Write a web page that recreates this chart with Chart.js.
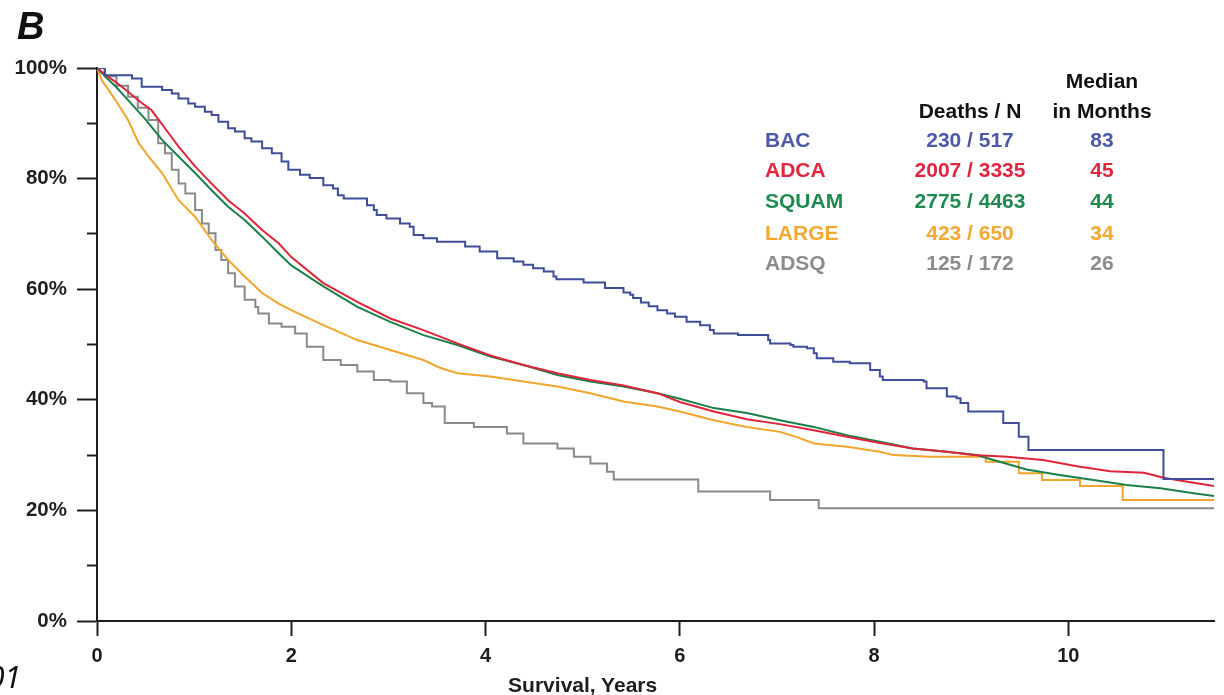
<!DOCTYPE html>
<html><head><meta charset="utf-8">
<script src="https://cdn.jsdelivr.net/npm/chart.js@4.4.1/dist/chart.umd.min.js"></script>
<style>
html,body{margin:0;padding:0;background:#fff;overflow:hidden}
#wrap{position:relative;width:1224px;height:695px;overflow:hidden}
canvas{position:absolute;left:0;top:0}
.t{position:absolute;font-family:"Liberation Sans",Arial,sans-serif;font-weight:bold;font-size:21px;line-height:21px;white-space:nowrap}
</style></head><body>
<div id="wrap"><canvas id="c" width="1224" height="695"></canvas></div>
<script>
// ---------- data ----------
const xTicks = [0, 2, 4, 6, 8, 10];
const yTicks = [0, 20, 40, 60, 80, 100];
const yMinorTicks = [10, 30, 50, 70, 90];
const xTitle = 'Survival, Years';

const bacT = [0,0.08,0.36,0.46,0.67,0.77,0.84,0.94,1.01,1.11,1.18,1.25,1.35,1.42,1.52,1.59,1.70,1.80,1.90,1.97,2.09,2.19,2.33,2.43,2.48,2.54,2.78,2.85,2.88,2.98,3.12,3.22,3.26,3.36,3.50,3.79,3.94,4.12,4.29,4.39,4.49,4.60,4.70,4.73,5.01,5.23,5.42,5.49,5.52,5.60,5.68,5.77,5.87,5.95,6.07,6.21,6.31,6.35,6.60,6.91,6.93,7.14,7.17,7.31,7.38,7.41,7.58,7.75,7.96,8.06,8.09,8.51,8.54,8.75,8.85,8.89,8.97,9.33,9.49,9.59,10.98,11.5];
const bacS = [100,98.7,98.1,96.6,96.0,95.4,94.5,93.6,93.0,92.1,91.5,90.3,89.1,88.5,87.3,86.7,85.5,84.6,83.1,81.6,80.7,80.1,78.8,78.2,77.0,76.4,75.2,74.3,73.4,72.8,71.9,71.3,69.8,69.2,68.6,67.7,66.8,65.6,65.0,64.4,63.8,63.2,62.3,61.8,61.2,60.2,59.4,59.0,58.4,57.6,56.9,56.2,55.6,55.0,54.1,53.5,52.6,52.0,51.7,50.8,50.2,49.9,49.6,49.3,48.4,47.5,46.9,46.6,45.4,44.2,43.6,43.3,42.1,40.6,40.3,39.4,37.9,35.8,33.3,30.9,25.7,25.7];

const adcaT = [0,0.1,0.19,0.32,0.45,0.56,0.70,0.84,1.01,1.18,1.35,1.52,1.70,1.87,2.0,2.33,2.68,3.02,3.36,3.71,4.05,4.39,4.74,5.08,5.42,5.77,6.0,6.35,6.69,7.03,7.38,7.72,8.06,8.4,8.75,9.02,9.37,9.74,10.09,10.43,10.78,10.98,11.29,11.5];
const adcaS = [100,98.6,97.5,95.7,93.8,92.4,89.1,85.8,82.2,79.1,76.1,73.7,70.7,68.3,65.8,61.1,57.7,54.7,52.6,50.2,48.0,46.3,44.8,43.6,42.6,41.2,39.6,37.9,36.5,35.6,34.5,33.3,32.2,31.2,30.6,30.0,29.7,29.1,28.0,27.1,26.8,25.9,25.0,24.4];

const squT = [0,0.1,0.19,0.32,0.49,0.67,0.84,1.01,1.18,1.35,1.52,1.70,1.87,2.0,2.33,2.68,3.02,3.36,3.71,4.05,4.39,4.74,5.08,5.42,5.77,6.0,6.35,6.69,7.03,7.38,7.72,8.06,8.4,8.75,9.06,9.23,9.57,9.91,10.26,10.6,10.95,11.29,11.5];
const squS = [100,98.2,96.7,94.2,90.9,87.0,84.0,81.0,77.9,74.9,72.5,69.5,66.5,64.3,60.5,56.8,54.1,51.7,49.9,47.8,46.3,44.5,43.3,42.4,41.2,40.2,38.5,37.6,36.3,35.1,33.6,32.4,31.2,30.6,30.0,29.1,27.4,26.4,25.5,24.6,24.0,23.1,22.6];

const lrgT = [0,0.05,0.19,0.32,0.43,0.53,0.67,0.84,1.01,1.18,1.35,1.52,1.70,1.87,2.0,2.33,2.68,3.02,3.36,3.53,3.71,4.05,4.39,4.74,5.08,5.42,5.77,6.0,6.35,6.69,7.03,7.2,7.38,7.72,8.06,8.2,8.58,9.15,9.15,9.49,9.49,9.73,9.73,10.12,10.12,10.56,10.56,11.5];
const lrgS = [100,97.8,94.2,90.6,86.4,84.0,81.0,76.1,73.1,68.9,65.3,62.3,59.3,57.4,56.2,53.5,50.8,49.0,47.2,45.8,44.8,44.2,43.3,42.4,41.2,39.7,38.8,37.9,36.3,35.1,34.2,33.3,32.1,31.5,30.6,30.0,29.7,29.7,28.8,28.8,26.7,26.7,25.5,25.5,24.4,24.4,21.9,21.9];

const adsqT = [0,0.08,0.2,0.32,0.42,0.53,0.63,0.70,0.77,0.84,0.91,1.01,1.08,1.15,1.22,1.28,1.35,1.42,1.52,1.63,1.66,1.77,1.90,2.04,2.16,2.33,2.51,2.68,2.85,3.02,3.19,3.36,3.45,3.58,3.88,4.22,4.39,4.74,4.91,5.08,5.25,5.32,6.19,6.93,7.43,11.5];
const adsqS = [100,98.5,96.8,94.8,92.8,90.6,86.4,84.6,81.6,79.1,77.3,74.3,71.9,70.1,67.1,65.3,62.9,60.5,58.1,56.8,55.6,53.8,53.2,52.0,49.6,47.2,46.3,45.1,43.6,43.3,41.2,39.4,38.8,35.8,35.1,33.9,32.1,31.2,29.7,28.5,27.0,25.6,23.4,21.9,20.4,20.4];

const legNames  = ['BAC', 'ADCA', 'SQUAM', 'LARGE', 'ADSQ'];
const legDeaths = ['230 / 517', '2007 / 3335', '2775 / 4463', '423 / 650', '125 / 172'];
const legMedian = ['83', '45', '44', '34', '26'];

// ---------- styles ----------
const FONT = '"Liberation Sans", Arial, sans-serif';
const lineColors = ['#3f4d9b', '#e0243a', '#1b8049', '#f2a52b', '#8a8a8a'];
const textColors = ['#4c5aa8', '#e32640', '#1f8a50', '#f4a832', '#8c8c8c'];
const AX = '#1e1e1e';

const pts = (T, S) => T.map((t, i) => ({x: t, y: S[i]}));
const series = [
  {T: bacT, S: bacS, stepped: true},
  {T: adcaT, S: adcaS, stepped: false},
  {T: squT, S: squS, stepped: false},
  {T: lrgT, S: lrgS, stepped: false},
  {T: adsqT, S: adsqS, stepped: true}
];

const chart = new Chart(document.getElementById('c'), {
  type: 'line',
  data: {
    datasets: series.map((s, i) => ({
      label: legNames[i],
      data: pts(s.T, s.S),
      stepped: s.stepped,
      borderColor: lineColors[i],
      borderWidth: 2,
      pointRadius: 0,
      fill: false,
      tension: 0,
      yAxisID: 'y'
    }))
  },
  options: {
    responsive: false,
    animation: false,
    layout: {padding: {left: 0, top: 68, right: 10, bottom: 0}},
    plugins: {legend: {display: false}, tooltip: {enabled: false}},
    scales: {
      x: {
        type: 'linear', min: 0, max: 11.5,
        afterBuildTicks: s => { s.ticks = xTicks.map(v => ({value: v})); },
        afterFit: s => { s.height = 74; },
        grid: {drawOnChartArea: false, drawTicks: true, tickLength: 15, tickWidth: 2, tickColor: AX},
        border: {display: true, color: AX, width: 2},
        ticks: {color: AX, font: {family: FONT, size: 20, weight: 'bold'}, padding: 8, maxRotation: 0, autoSkip: false}
      },
      y: {
        type: 'linear', position: 'left', min: 0, max: 100, weight: 1,
        afterBuildTicks: s => { s.ticks = yTicks.map(v => ({value: v})); },
        afterFit: s => { s.width = 97; },
        grid: {drawOnChartArea: false, drawTicks: true, tickLength: 20, tickWidth: 2, tickColor: AX},
        border: {display: true, color: AX, width: 2},
        ticks: {callback: v => v + '%', color: AX, font: {family: FONT, size: 20.5, weight: 'bold'}, padding: 10}
      },
      yMinor: {
        type: 'linear', position: 'left', min: 0, max: 100, weight: 0,
        afterBuildTicks: s => { s.ticks = yMinorTicks.map(v => ({value: v})); },
        afterFit: s => { s.width = 0; },
        grid: {drawOnChartArea: false, drawTicks: true, tickLength: 10, tickWidth: 2, tickColor: AX},
        border: {display: false},
        ticks: {display: false}
      }
    }
  }
});

// ---------- text overlays ----------
const wrap = document.getElementById('wrap');
function addText(txt, x, y, align, color, extra) {
  const d = document.createElement('div');
  d.className = 't';
  d.textContent = txt;
  d.style.left = x + 'px';
  d.style.top = y + 'px';
  d.style.color = color;
  d.style.transform = align === 'center' ? 'translate(-50%,-50%)' : 'translate(0,-50%)';
  if (extra) Object.assign(d.style, extra);
  wrap.appendChild(d);
  return d;
}
const colLabel = 765, colDeaths = 970, colMedian = 1102;
const rowY = [139, 169, 200, 231.5, 262];
addText('Median', colMedian, 79.5, 'center', '#111');
addText('Deaths / N', colDeaths, 110, 'center', '#111');
addText('in Months', colMedian, 110, 'center', '#111');
legNames.forEach((n, i) => {
  addText(n, colLabel, rowY[i], 'left', textColors[i]);
  addText(legDeaths[i], colDeaths, rowY[i], 'center', textColors[i]);
  addText(legMedian[i], colMedian, rowY[i], 'center', textColors[i]);
});
// x-axis title, centred under the 0–10 labelled span like the reference
const xs = chart.scales.x;
addText(xTitle, (xs.getPixelForValue(xTicks[0]) + xs.getPixelForValue(xTicks[xTicks.length - 1])) / 2, 684, 'center', AX, {fontSize: '21px'});
// panel letter
addText('B', 17, 26, 'left', '#111', {fontSize: '38px', lineHeight: '38px', fontStyle: 'italic'});
// cut-off fragment at bottom-left
addText('01', -12, 677, 'left', '#111', {fontFamily: '"Noto Sans", sans-serif', fontWeight: 'normal', fontStyle: 'italic', fontSize: '30px', lineHeight: '30px'});
</script>
</body></html>
